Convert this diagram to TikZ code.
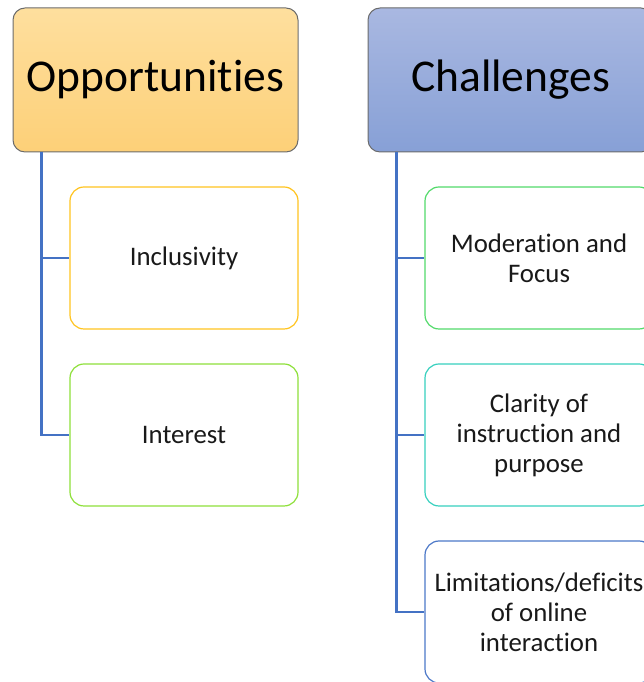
\documentclass[tikz,border=0pt]{standalone}
\usepackage{fontspec}
\setmainfont{Carlito}[Ligatures={NoCommon}]
\usetikzlibrary{shadings}
\definecolor{connblue}{HTML}{4472C4}
\definecolor{hdrborder}{HTML}{6B6B6B}
\definecolor{oppTop}{HTML}{FEDF9E}
\definecolor{oppBot}{HTML}{FDD078}
\definecolor{chaTop}{HTML}{A9B8E1}
\definecolor{chaBot}{HTML}{87A0D6}
\definecolor{cGold}{HTML}{FFC41F}
\definecolor{cLime}{HTML}{8EE03A}
\definecolor{cGreen}{HTML}{52DA6A}
\definecolor{cTeal}{HTML}{36D0BE}
\definecolor{cBlue}{HTML}{4C78C8}
\tikzset{
  header/.style={draw=hdrborder, line width=1pt, rounded corners=12pt,
    minimum width=285pt, minimum height=144pt, inner sep=0pt,
    font=\fontsize{45.5}{54}\selectfont, text=black},
  child/.style={draw=#1, line width=1.2pt, rounded corners=14pt, fill=white,
    minimum width=228pt, minimum height=142pt, inner sep=0pt,
    align=center, font=\fontsize{26.8}{30}\selectfont, text=black!90},
  conn/.style={draw=connblue, line width=2.6pt}
}
\begin{document}
\begin{tikzpicture}[x=1pt,y=1pt]
\useasboundingbox (0,0) rectangle (644,682);
\clip (0,0) rectangle (644,682);
\node[header, top color=oppTop, bottom color=oppBot] (opp) at (155.5,602) {\raisebox{-2pt}{Opportunities}};
\node[header, top color=chaTop, bottom color=chaBot] (cha) at (510.5,602) {\raisebox{-2pt}{Challenges}};

\node[child=cGold] (inc) at (184,424) {Inclusivity};
\node[child=cLime] (int) at (184,247) {Interest};

\node[child=cGreen] (mod) at (539,424) {Moderation and\\Focus};
\node[child=cTeal] (cla) at (539,247) {Clarity of\\instruction and\\purpose};
\node[child=cBlue] (lim) at (539,70) {Limitations/deficits\\of online\\interaction};

\path (opp.south west) ++(29,0) coordinate (ot);
\path (cha.south west) ++(29,0) coordinate (ct);
\draw[conn] (ot) |- (inc.west);
\draw[conn] (ot) |- (int.west);
\draw[conn] (ct) |- (mod.west);
\draw[conn] (ct) |- (cla.west);
\draw[conn] (ct) |- (lim.west);
\end{tikzpicture}
\end{document}
